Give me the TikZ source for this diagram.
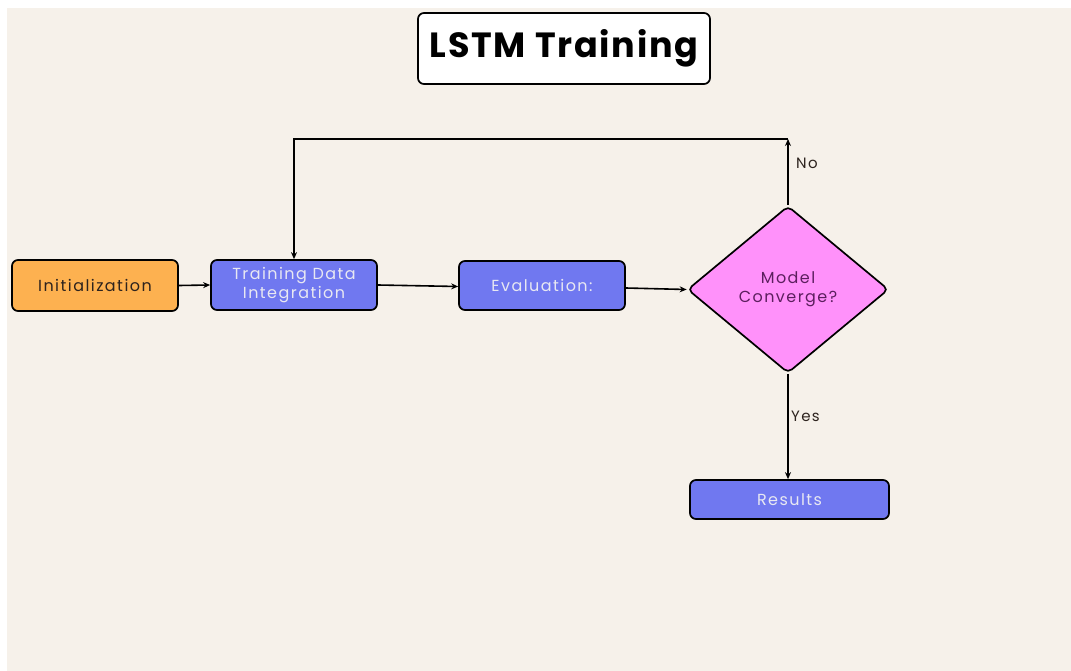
\documentclass[tikz,border=0pt]{standalone}
\usepackage{fontspec}
\setmainfont{Poppins}
\newfontfamily\popb{Poppins}[UprightFont=* Bold, LetterSpace=5]
\newfontfamily\popr{Poppins}[LetterSpace=9]
\usetikzlibrary{shapes.geometric,arrows.meta}
\definecolor{bgbeige}{RGB}{246,241,234}
\definecolor{orangebox}{RGB}{253,177,80}
\definecolor{bluebox}{RGB}{112,120,240}
\definecolor{pinkbox}{RGB}{255,145,250}
\definecolor{lighttext}{RGB}{232,232,242}
\definecolor{purpletext}{RGB}{92,31,94}
\definecolor{darktext}{RGB}{45,35,30}
\begin{document}
\begin{tikzpicture}[x=1pt,y=1pt,
  box/.style={draw=black,line width=1.7pt,rounded corners=6pt,inner sep=0pt,align=center,font=\popr\fontsize{16}{19}\selectfont},
  orangestyle/.style={box,fill=orangebox,text=darktext},
  bluestyle/.style={box,fill=bluebox,text=lighttext},
  decision/.style={diamond,draw=black,line width=1.7pt,rounded corners=5pt,fill=pinkbox,text=purpletext,inner sep=0pt,align=center,font=\popr\fontsize{16}{19}\selectfont},
  conn/.style={line width=1.6pt,-{Stealth[length=7pt,width=6pt]}},
  lbl/.style={font=\popr\fontsize{15}{18}\selectfont,text=darktext,inner sep=0pt}]
\useasboundingbox (0,0) rectangle (1071,-671);
\fill[white] (0,0) rectangle (1071,-671);
\fill[bgbeige] (7,-8) rectangle (1071,-671);

\node[box,fill=white,text=black,minimum width=292,minimum height=71,font=\popb\fontsize{35}{40}\selectfont] (title) at (564,-48.5) {LSTM Training};

\node[orangestyle,minimum width=166,minimum height=51] (init) at (95,-285.5) {Initialization};
\node[bluestyle,minimum width=166,minimum height=50] (tdi) at (294,-285) {Training Data\\Integration};
\node[bluestyle,minimum width=166,minimum height=49] (eval) at (542,-285.5) {Evaluation:};
\node[decision,minimum width=201,minimum height=167] (dec) at (788,-289.5) {Model\\Converge?};
\node[bluestyle,minimum width=199,minimum height=39] (res) at (789.5,-499.5) {Results};

\coordinate (topr) at (788,-139);

\draw[conn] (init.east) -- (tdi.west);
\draw[conn] (tdi.east) -- ([yshift=-1pt]eval.west);
\draw[conn] ([yshift=-2.5pt]eval.east) -- (dec.west);
\draw[conn] (dec.north) -- (topr);
\draw[conn] (topr) -| (tdi.north);
\draw[conn] (dec.south) -- (dec.south |- res.north);

\node[lbl,anchor=west] (no) at (796,-163) {No};
\node[lbl,anchor=west] (yes) at (791,-416) {Yes};
\end{tikzpicture}
\end{document}
